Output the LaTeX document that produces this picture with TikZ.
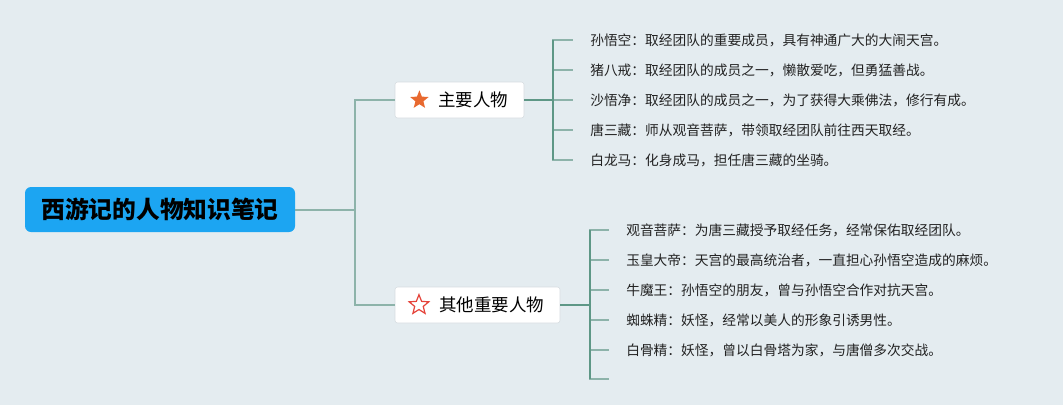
\documentclass[tikz,border=0pt]{standalone}
\usepackage{fontspec}
\setmainfont{Noto Sans CJK SC}
\usetikzlibrary{positioning,shapes.geometric}
\definecolor{bgcol}{HTML}{E4ECF0}
\definecolor{rootcol}{HTML}{1CA5F2}
\definecolor{trunkcol}{HTML}{8DB3AA}
\definecolor{branchcol}{HTML}{5E9786}
\definecolor{boxline}{HTML}{D6DCE0}
\definecolor{leaftext}{HTML}{222222}
\definecolor{starorange}{HTML}{E8692F}
\definecolor{starred}{HTML}{E5433A}

\begin{document}
\begin{tikzpicture}[x=0.75pt, y=-0.75pt,
  root/.style={fill=rootcol, rounded corners=4.5pt, minimum width=202.5pt, minimum height=33.75pt, font=\fontsize{17.8pt}{20pt}\selectfont\bfseries},
  topic/.style={draw=boxline, fill=white, rounded corners=2pt, minimum height=27pt, inner xsep=12pt, align=right, font=\fontsize{13.1pt}{15pt}\selectfont},
  leaf/.style={anchor=west, inner xsep=12.75pt, text=leaftext, font=\fontsize{10.3pt}{12pt}\selectfont},
  trunk/.style={draw=trunkcol, line width=1.5pt},
  branch/.style={draw=branchcol, line width=1.5pt},
  stub/.style={draw=trunkcol, line width=1.5pt}]

  % Background
  \fill[bgcol] (0,0) rectangle (1063,405);
  \useasboundingbox (0,0) rectangle (1063,405);

  % Root
  \node[root] (R) at (160,209.5) {西游记的人物知识笔记};

  % Topics
  \node[topic, text width=72.75pt] (M1) at (459.5,100) {主要人物};
  \node[topic, text width=99.75pt] (M2) at (477.5,305) {其他重要人物};
  \node[star, star points=5, star point ratio=2.3, minimum size=14.5pt, inner sep=0pt, fill=starorange, right=14pt of M1.west] (S1) {};
  \node[star, star points=5, star point ratio=2.3, minimum size=15.5pt, inner sep=0pt, draw=starred, line width=0.9pt, right=13pt of M2.west] (S2) {};

  % Main characters
  \node[leaf] (A1) at (573,40) {孙悟空：取经团队的重要成员，具有神通广大的大闹天宫。};
  \node[leaf] (A2) at (573,70) {猪八戒：取经团队的成员之一，懒散爱吃，但勇猛善战。};
  \node[leaf] (A3) at (573,100) {沙悟净：取经团队的成员之一，为了获得大乘佛法，修行有成。};
  \node[leaf] (A4) at (573,130) {唐三藏：师从观音菩萨，带领取经团队前往西天取经。};
  \node[leaf] (A5) at (573,160) {白龙马：化身成马，担任唐三藏的坐骑。};

  % Other characters
  \node[leaf] (B1) at (609,230) {观音菩萨：为唐三藏授予取经任务，经常保佑取经团队。};
  \node[leaf] (B2) at (609,260) {玉皇大帝：天宫的最高统治者，一直担心孙悟空造成的麻烦。};
  \node[leaf] (B3) at (609,290) {牛魔王：孙悟空的朋友，曾与孙悟空合作对抗天宫。};
  \node[leaf] (B4) at (609,320) {蜘蛛精：妖怪，经常以美人的形象引诱男性。};
  \node[leaf] (B5) at (609,350) {白骨精：妖怪，曾以白骨塔为家，与唐僧多次交战。};
  \coordinate (B6) at (609,379);

  % Joints
  \coordinate (J) at (355,209.5);
  \coordinate (K1) at (553,100);
  \coordinate (K2) at (590,305);

  % Root to topics
  \draw[trunk] (R.east) -- (J) |- (M1.west);
  \draw[trunk] (J) |- (M2.west);

  % Topic to leaves
  \draw[stub] (K1) |- (A1.west);
  \draw[stub] (K1) |- (A2.west);
  \draw[stub] (K1) |- (A3.west);
  \draw[stub] (K1) |- (A4.west);
  \draw[stub] (K1) |- (A5.west);
  \draw[branch] (M1.east) -- (K1);
  \draw[branch] (K1 |- A1.west) -- (K1 |- A5.west);

  \draw[stub] (K2) |- (B1.west);
  \draw[stub] (K2) |- (B2.west);
  \draw[stub] (K2) |- (B3.west);
  \draw[stub] (K2) |- (B4.west);
  \draw[stub] (K2) |- (B5.west);
  \draw[stub] (K2) |- (B6);
  \draw[branch] (M2.east) -- (K2);
  \draw[branch] (K2 |- B1.west) -- (K2 |- B6);

\end{tikzpicture}
\end{document}
